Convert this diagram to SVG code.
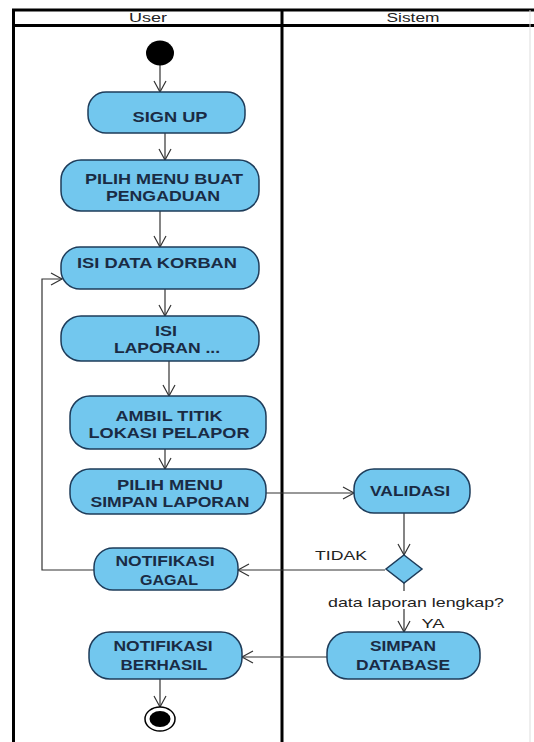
<svg xmlns="http://www.w3.org/2000/svg" width="534" height="742" viewBox="0 0 534 742">
<defs>
<style>
.lane{stroke:#000;stroke-width:3;fill:none}
.hdr{font-family:"Liberation Sans",Arial,sans-serif;font-size:13px;fill:#222;text-anchor:middle}
.box{fill:#72c7ee;stroke:#1e3c5a;stroke-width:1.5}
.t{font-family:"Liberation Sans",Arial,sans-serif;font-size:14px;font-weight:bold;fill:#1a2b44;text-anchor:middle}
.lbl{font-family:"Liberation Sans",Arial,sans-serif;font-size:13px;fill:#222;text-anchor:middle}
.c{stroke:#333;stroke-width:1.2;fill:none}
</style>
<marker id="ah" markerWidth="14" markerHeight="14" refX="12" refY="7" orient="auto" markerUnits="userSpaceOnUse">
<path d="M1,1 L12,7 L1,13" fill="none" stroke="#333" stroke-width="1.2"/>
</marker>
</defs>
<rect width="534" height="742" fill="#fff"/>
<g id="swimlanes">
<line class="lane" x1="12" y1="10" x2="534" y2="10"/>
<line class="lane" x1="12" y1="25.5" x2="534" y2="25.5"/>
<line class="lane" x1="13.5" y1="9" x2="13.5" y2="742"/>
<line class="lane" x1="282" y1="9" x2="282" y2="742"/>
<line x1="530" y1="10" x2="530" y2="742" stroke="#ddd" stroke-width="1"/>
<text class="hdr" x="148" y="22" textLength="38" lengthAdjust="spacingAndGlyphs">User</text>
<text class="hdr" x="413" y="22" textLength="53" lengthAdjust="spacingAndGlyphs">Sistem</text>
</g>
<g id="connectors">
<path class="c" d="M160,65 L160,92" marker-end="url(#ah)"/>
<path class="c" d="M165,133 L165,160" marker-end="url(#ah)"/>
<path class="c" d="M160,211 L160,247" marker-end="url(#ah)"/>
<path class="c" d="M165,289 L165,316" marker-end="url(#ah)"/>
<path class="c" d="M169,361 L169,396" marker-end="url(#ah)"/>
<path class="c" d="M165,449 L165,469" marker-end="url(#ah)"/>
<path class="c" d="M266,493 L354,493" marker-end="url(#ah)"/>
<path class="c" d="M404,513 L404,555" marker-end="url(#ah)"/>
<path class="c" d="M385,570 L238,570" marker-end="url(#ah)"/>
<path class="c" d="M94,570 L42,570 L42,279 L62,279" marker-end="url(#ah)"/>
<path class="c" d="M404,583 L404,591"/>
<path class="c" d="M404,609 L404,632" marker-end="url(#ah)"/>
<path class="c" d="M327,657 L242,657" marker-end="url(#ah)"/>
<path class="c" d="M160,679 L160,707" marker-end="url(#ah)"/>
<text class="lbl" x="341" y="560" textLength="52" lengthAdjust="spacingAndGlyphs">TIDAK</text>
<text class="lbl" x="416" y="607" textLength="176" lengthAdjust="spacingAndGlyphs">data laporan lengkap?</text>
<text class="lbl" x="433" y="628" textLength="23" lengthAdjust="spacingAndGlyphs">YA</text>
</g>
<g id="start">
<ellipse cx="160" cy="53" rx="14" ry="12.5" fill="#000"/>
</g>
<g id="signup">
<rect class="box" x="88" y="92" width="157" height="41" rx="18"/>
<text class="t" x="170" y="122" textLength="75" lengthAdjust="spacingAndGlyphs">SIGN UP</text>
</g>
<g id="pilih-menu-buat">
<rect class="box" x="61" y="160" width="198" height="51" rx="20"/>
<text class="t" x="164" y="184" textLength="158" lengthAdjust="spacingAndGlyphs">PILIH MENU BUAT</text>
<text class="t" x="163" y="201" textLength="114" lengthAdjust="spacingAndGlyphs">PENGADUAN</text>
</g>
<g id="isi-data-korban">
<rect class="box" x="61" y="247" width="198" height="42" rx="19"/>
<text class="t" x="157" y="268" textLength="160" lengthAdjust="spacingAndGlyphs">ISI DATA KORBAN</text>
</g>
<g id="isi-laporan">
<rect class="box" x="61" y="316" width="198" height="45" rx="20"/>
<text class="t" x="166" y="336" textLength="22" lengthAdjust="spacingAndGlyphs">ISI</text>
<text class="t" x="167" y="353" textLength="106" lengthAdjust="spacingAndGlyphs">LAPORAN ...</text>
</g>
<g id="ambil-titik">
<rect class="box" x="70" y="396" width="196" height="53" rx="20"/>
<text class="t" x="169" y="421" textLength="107" lengthAdjust="spacingAndGlyphs">AMBIL TITIK</text>
<text class="t" x="169" y="438" textLength="161" lengthAdjust="spacingAndGlyphs">LOKASI PELAPOR</text>
</g>
<g id="pilih-menu-simpan">
<rect class="box" x="70" y="469" width="196" height="45" rx="20"/>
<text class="t" x="170" y="490" textLength="106" lengthAdjust="spacingAndGlyphs">PILIH MENU</text>
<text class="t" x="170" y="507" textLength="159" lengthAdjust="spacingAndGlyphs">SIMPAN LAPORAN</text>
</g>
<g id="validasi">
<rect class="box" x="354" y="469" width="116" height="44" rx="20"/>
<text class="t" x="410" y="496" textLength="80" lengthAdjust="spacingAndGlyphs">VALIDASI</text>
</g>
<g id="decision">
<path class="box" d="M404,555 L422,569 L404,583 L386,569 Z"/>
</g>
<g id="notifikasi-gagal">
<rect class="box" x="94" y="548" width="144" height="42" rx="19"/>
<text class="t" x="165" y="566" textLength="99" lengthAdjust="spacingAndGlyphs">NOTIFIKASI</text>
<text class="t" x="169" y="585" textLength="58" lengthAdjust="spacingAndGlyphs">GAGAL</text>
</g>
<g id="simpan-database">
<rect class="box" x="327" y="632" width="153" height="47" rx="21"/>
<text class="t" x="403" y="651" textLength="66" lengthAdjust="spacingAndGlyphs">SIMPAN</text>
<text class="t" x="403" y="670" textLength="94" lengthAdjust="spacingAndGlyphs">DATABASE</text>
</g>
<g id="notifikasi-berhasil">
<rect class="box" x="89" y="632" width="153" height="47" rx="21"/>
<text class="t" x="163" y="651" textLength="99" lengthAdjust="spacingAndGlyphs">NOTIFIKASI</text>
<text class="t" x="164" y="670" textLength="87" lengthAdjust="spacingAndGlyphs">BERHASIL</text>
</g>
<g id="end">
<ellipse cx="160" cy="719" rx="15" ry="12" fill="#fff" stroke="#000" stroke-width="1.5"/>
<ellipse cx="160" cy="719" rx="10.5" ry="8" fill="#000"/>
</g>
</svg>
